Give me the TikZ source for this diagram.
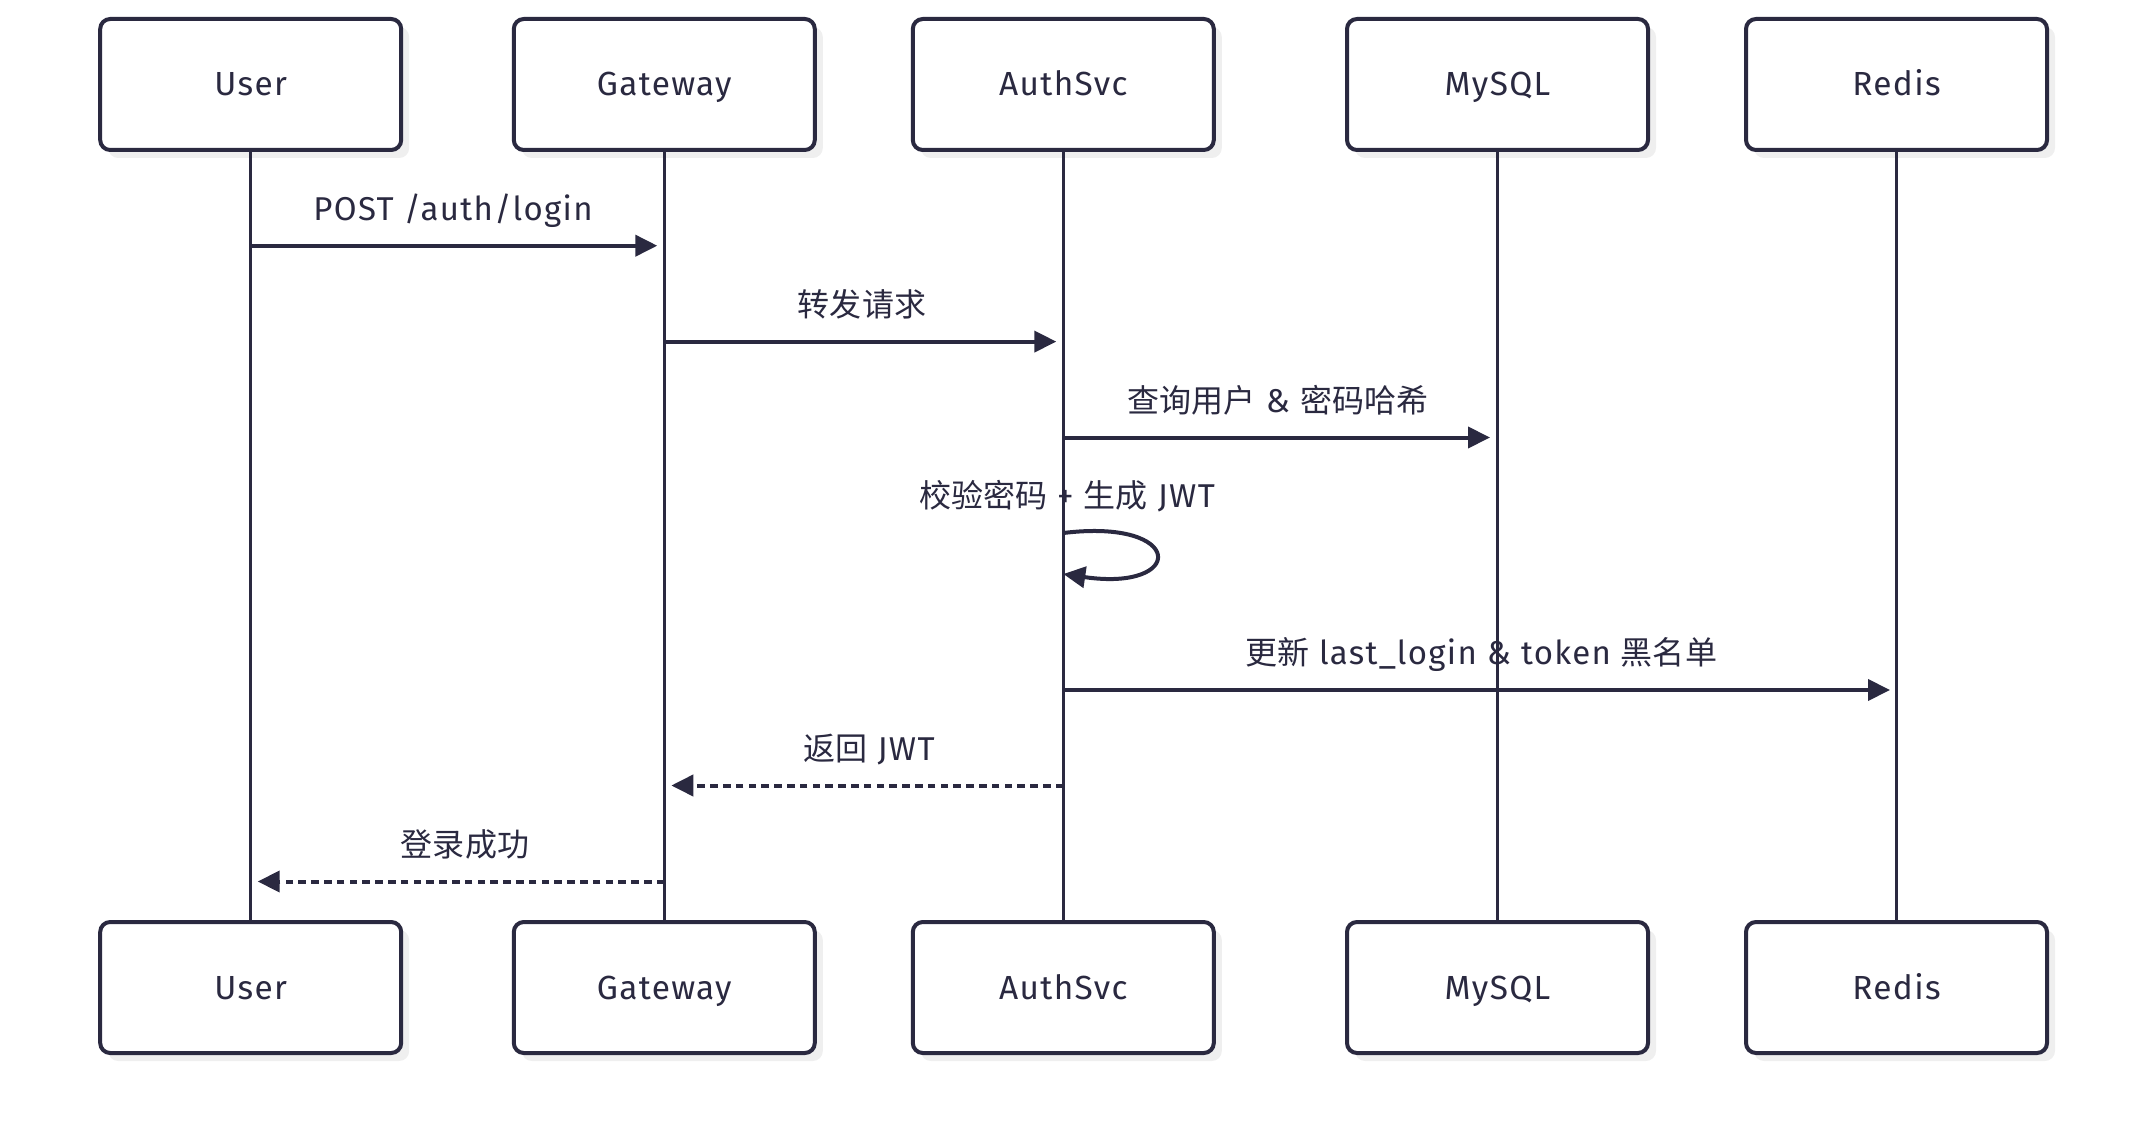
\documentclass[tikz,border=0pt]{standalone}
\usepackage{fontspec}
\setmainfont{Fira Sans}[LetterSpace=4]
\newfontfamily\cjk{Noto Sans CJK SC}[Scale=0.97]
\usetikzlibrary{arrows.meta,shadows}
\definecolor{ink}{HTML}{2A2940}
\definecolor{shade}{HTML}{EFEFEF}
\tikzset{
  actor/.style={draw=ink, line width=2pt, rounded corners=5pt, fill=white,
    minimum width=150.5pt, minimum height=65.5pt, inner sep=0pt,
    text height=11.5pt, text depth=0pt, text=ink,
    font=\fontsize{16.7}{18}\selectfont,
    general shadow={shadow xshift=4pt, shadow yshift=-4pt, fill=shade}},
  lifeline/.style={draw=ink, line width=1.7pt},
  msg/.style={draw=ink, line width=2pt, -{Triangle[length=11pt,width=10.5pt]}},
  reply/.style={msg, dash pattern=on 3.8pt off 2.6pt},
  lbl/.style={anchor=base, text=ink, inner sep=0pt, font=\fontsize{16.5}{18}\selectfont},
}
\begin{document}
\begin{tikzpicture}[x=0.5pt,y=-0.5pt]
\useasboundingbox (0,0) rectangle (2148,1134);
% actors
\node[actor] (ut) at (250.7,84.5) {User};
\node[actor] (gt) at (664.3,84.5) {Gateway};
\node[actor] (at) at (1063.3,84.5) {AuthSvc};
\node[actor] (mt) at (1497.5,84.5) {MySQL};
\node[actor] (rt) at (1896.5,84.5) {Redis};
\node[actor] (ub) at (250.7,987.5) {User};
\node[actor] (gb) at (664.3,987.5) {Gateway};
\node[actor] (ab) at (1063.3,987.5) {AuthSvc};
\node[actor] (mb) at (1497.5,987.5) {MySQL};
\node[actor] (rb) at (1896.5,987.5) {Redis};
% lifelines
\foreach \t/\b in {ut/ub,gt/gb,at/ab,mt/mb,rt/rb}
  \draw[lifeline] (\t.south) -- (\b.north);
% message end points
\coordinate (m1s) at (250.7,245.7);  \coordinate (m1e) at (657.3,245.7);
\coordinate (m2s) at (664.3,341.6);  \coordinate (m2e) at (1056.3,341.6);
\coordinate (m3s) at (1063.3,437.5); \coordinate (m3e) at (1490,437.5);
\coordinate (s1)  at (1063.3,533);   \coordinate (s2)  at (1063.3,574);
\coordinate (m5s) at (1063.3,690);   \coordinate (m5e) at (1890,690);
\coordinate (m6s) at (1063.3,785.5); \coordinate (m6e) at (671.3,785.5);
\coordinate (m7s) at (664.3,881.5);  \coordinate (m7e) at (257.7,881.5);
% messages
\draw[msg] (m1s) -- (m1e);
\draw[msg] (m2s) -- (m2e);
\draw[msg] (m3s) -- (m3e);
\draw[msg] (s1) .. controls (1186,518) and (1186,592) .. (s2);
\draw[msg] (m5s) -- (m5e);
\draw[reply] (m6s) -- (m6e);
\draw[reply] (m7s) -- (m7e);
% labels
\node[lbl] (l1) at (453,220.5) {POST /auth/login};
\node[lbl] (l2) at (862,316.4) {\cjk 转发请求};
\node[lbl] (l3) at (1278,412.3) {{\cjk 查询用户} \& {\cjk 密码哈希}};
\node[lbl] (l4) at (1067,507.5) {{\cjk 校验密码} + {\cjk 生成} JWT};
\node[lbl] (l5) at (1481,664.8) {{\cjk 更新} last\_login \& token {\cjk 黑名单}};
\node[lbl] (l6) at (869,760.3) {{\cjk 返回} JWT};
\node[lbl] (l7) at (465,856.3) {\cjk 登录成功};
\end{tikzpicture}
\end{document}
